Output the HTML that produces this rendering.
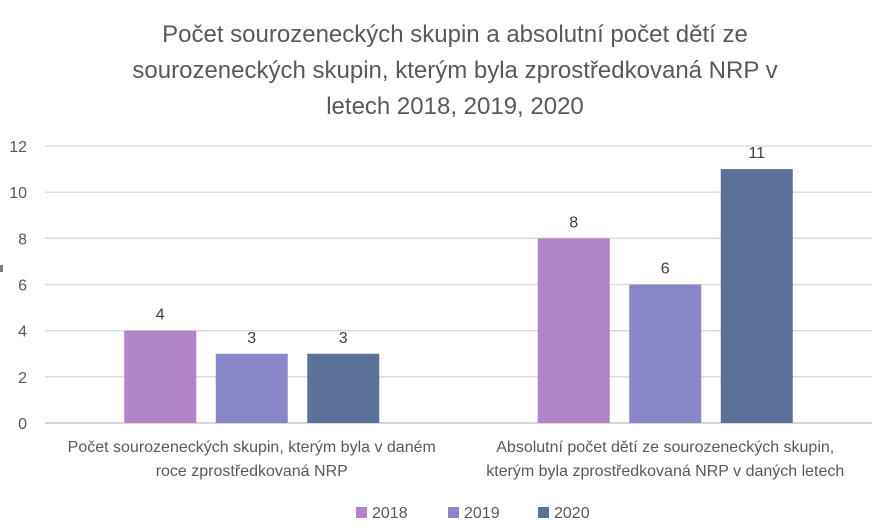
<!DOCTYPE html>
<html><head><meta charset="utf-8"><style>
body{margin:0;background:#fff;}
svg{display:block;font-family:"Liberation Sans",Calibri,sans-serif;}
</style></head><body>
<svg id="chart" width="885" height="530" viewBox="0 0 885 530">
<rect width="885" height="530" fill="#fff"/>
<g fill="#595959" font-size="24" text-anchor="middle">
<text x="455" y="42">Počet sourozeneckých  skupin a absolutní počet dětí ze</text>
<text x="455" y="78">sourozeneckých  skupin, kterým byla zprostředkovaná NRP v</text>
<text x="455" y="114">letech 2018, 2019, 2020</text>
</g>
<rect x="0" y="265" width="3" height="7" fill="#7f7f7f"/>
<g id="grid"></g><g id="bars"></g><g id="labels"></g>
<g id="legend"></g>
</svg>
<script>
const categories=["Počet sourozeneckých skupin, kterým byla v daném|roce zprostředkovaná NRP","Absolutní počet dětí ze sourozeneckých skupin,|kterým byla zprostředkovaná NRP v daných letech"];
const seriesNames=["2018","2019","2020"];
const values2018=[4,8];
const values2019=[3,6];
const values2020=[3,11];
const yTicks=[0,2,4,6,8,10,12];
const colors=["#B084C6","#8A87C8","#5C7198"];
const NS="http://www.w3.org/2000/svg";
const plotL=45,plotR=872,y0=423,y12=146;
const y=v=>y0-(v/12)*(y0-y12);
const catW=(plotR-plotL)/categories.length;
const xc=i=>plotL+catW*(i+0.5);
function mk(t,a,p){const e=document.createElementNS(NS,t);for(const k in a)e.setAttribute(k,a[k]);p.appendChild(e);return e;}
const grid=document.getElementById('grid');
yTicks.forEach(t=>{
 const l=mk('line',{x1:plotL,x2:plotR,y1:y(t),y2:y(t),stroke:t===0?'#bfbfbf':'#d9d9d9','stroke-width':1.3},grid);
 
 
 const tx=mk('text',{x:27,y:y(t)+6,'text-anchor':'end','font-size':16,fill:'#595959'},grid);
 tx.textContent=t;
 
 
});
const all=[values2018,values2019,values2020];
const bw=72,step=91.5;
const bars=document.getElementById('bars'),labels=document.getElementById('labels');
categories.forEach((c,i)=>{
 all.forEach((s,j)=>{
  const cx=xc(i)+(j-1)*step;
  const r=mk('rect',{x:cx-bw/2,y:y(s[i]),width:bw,height:y0-y(s[i]),fill:colors[j]},bars);
  
  
  const t=mk('text',{x:cx,y:y(s[i])-11,'text-anchor':'middle','font-size':16,fill:'#404040'},labels);
  t.textContent=s[i];
  
  
 });
 c.split('|').forEach((ln,k)=>{
  const t=mk('text',{x:xc(i),y:452+k*24,'text-anchor':'middle','font-size':16,fill:'#595959'},labels);
  t.textContent=ln;
  
  
 });
});
const lg=document.getElementById('legend');
const lx=[356,448,538];
seriesNames.forEach((n,j)=>{
 const r=mk('rect',{x:lx[j],y:507,width:11,height:11,fill:colors[j]},lg);
 
 
 const t=mk('text',{x:lx[j]+16,y:518,'font-size':16,fill:'#595959'},lg);
 t.textContent=n;
 
 
});
</script>
</body></html>
